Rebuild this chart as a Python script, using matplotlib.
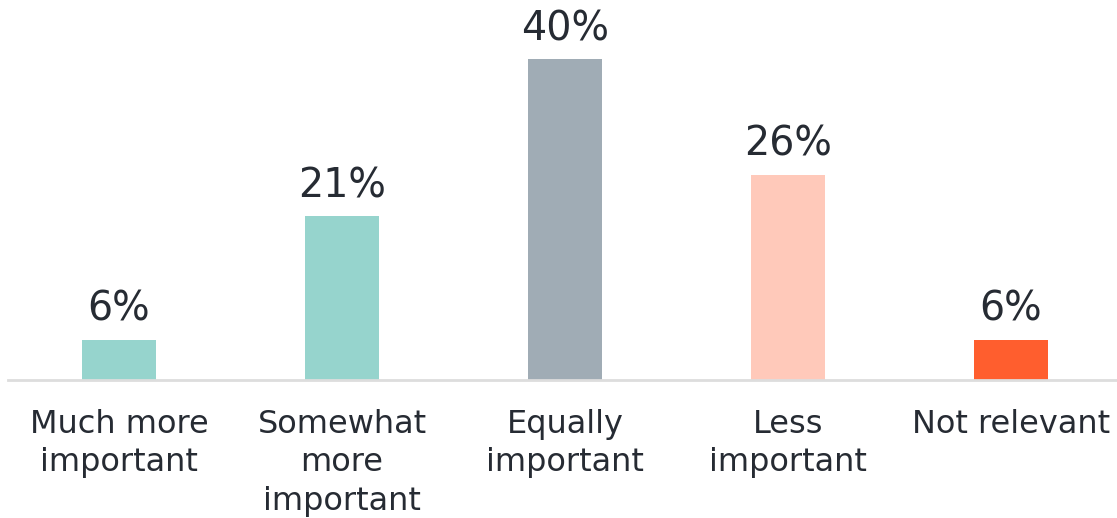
import matplotlib
matplotlib.use("Agg")
import matplotlib.pyplot as plt

categories = ["Much more\nimportant", "Somewhat\nmore\nimportant", "Equally\nimportant", "Less\nimportant", "Not relevant"]
values = [6, 21, 40, 26, 6]
labels = ["6%", "21%", "40%", "26%", "6%"]
colors = ["#96D4CD", "#96D4CD", "#A0ACB5", "#FFC9BA", "#FF5E2E"]

plt.rcParams['font.family'] = ['DejaVu Sans']
fig = plt.figure(figsize=(11.17, 5.18), dpi=100)
ax = fig.add_axes([7.5/1117, 138/518, 1114/1117, 380/518])
x = list(range(len(categories)))
ax.bar(x, values, width=0.336, color=colors)
for xi, v, l in zip(x, values, labels):
    ax.annotate(l, (xi, v), xytext=(0, 10), textcoords="offset pixels",
                ha="center", va="bottom", fontsize=28.5, color="#262B33")
ax.set_xlim(-0.5, 4.4955)
y0 = 1.15
ax.set_ylim(y0, y0 + 380/8.26)
ax.set_xticks(x)
ax.set_xticklabels(categories, fontsize=23, color="#262B33", linespacing=1.3)
ax.tick_params(axis='x', length=0, pad=21)
ax.set_yticks([])
for s in ["top", "right", "left"]:
    ax.spines[s].set_visible(False)
ax.spines["bottom"].set_color("#DDDDDD")
ax.spines["bottom"].set_linewidth(2)
fig.savefig("out.png", dpi=100)
